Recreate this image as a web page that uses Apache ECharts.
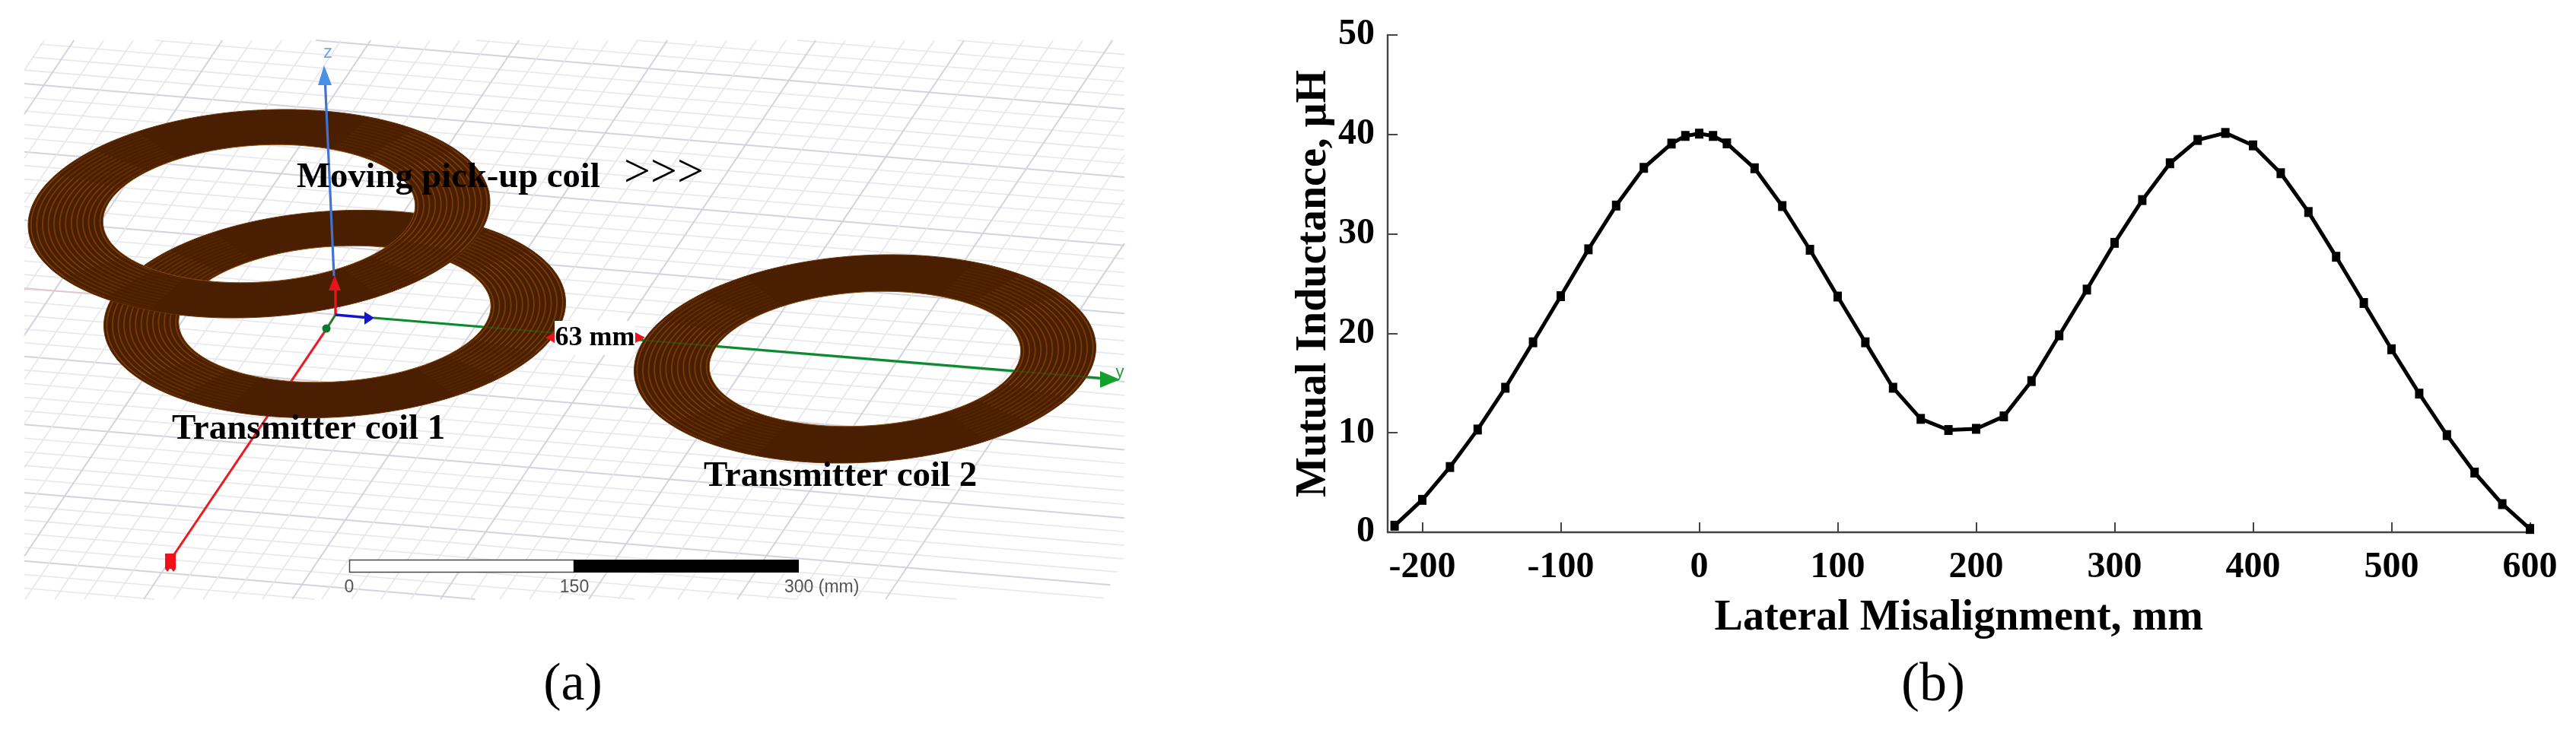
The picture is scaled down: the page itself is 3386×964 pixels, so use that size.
<!DOCTYPE html>
<html>
<head>
<meta charset="utf-8">
<title>Mutual inductance vs lateral misalignment</title>
<style>html,body{margin:0;padding:0;background:#fff}#chart{width:3386px;height:964px}</style>
<script src="https://cdn.jsdelivr.net/npm/echarts@6/dist/echarts.min.js"></script>
</head>
<body>
<div id="chart"></div>
<script>
// ---- Chart data (panel b) ----
const misalignmentMm = [-220,-200,-180,-160,-140,-120,-100,-80,-60,-40,-20,-10,0,10,20,40,60,80,100,120,140,160,180,200,220,240,260,280,300,320,340,360,380,400,420,440,460,480,500,520,540,560,580,600];
const mutualInductanceUH = [0.66,3.26,6.56,10.33,14.53,19.1,23.74,28.45,32.85,36.64,39.08,39.85,40.08,39.85,39.1,36.6,32.8,28.4,23.7,19.1,14.53,11.4,10.28,10.4,11.65,15.2,19.8,24.4,29.1,33.4,37.1,39.44,40.15,38.9,36.1,32.2,27.7,23.05,18.4,13.94,9.77,6.0,2.83,0.33];
const xTickValues = [-200,-100,0,100,200,300,400,500,600];
const yTickMax = 50;
const yTickStep = 10;
const xAxisTitle = 'Lateral Misalignment, mm';
const yAxisTitle = 'Mutual Inductance, \u03BCH';

// ---- Illustration text (panel a) ----
const labelPickup = 'Moving pick-up coil';
const labelArrows = '>>>';
const labelCoil1 = 'Transmitter coil 1';
const labelCoil2 = 'Transmitter coil 2';
const labelGap = '63 mm';
const scaleLabels = ['0', '150', '300 (mm)'];

const SERIF = '"Liberation Serif","Times New Roman",serif';
const SANS = '"Liberation Sans",Arial,sans-serif';
const els = [];

// Floor grid of the 3D view, clipped to its convex outline
const clipPoly = [[66,37],[1270,37],[1465,53],[1478,53],[1478,733],[1450,788],[32,788],[32,92]];
function clipLine(p, q) {
  let t0 = 0, t1 = 1;
  const d = [q[0]-p[0], q[1]-p[1]];
  for (let i = 0; i < clipPoly.length; i++) {
    const a = clipPoly[i], b = clipPoly[(i+1) % clipPoly.length];
    const n = [b[1]-a[1], a[0]-b[0]]; // points outward for a clockwise polygon on screen
    const num = n[0]*(a[0]-p[0]) + n[1]*(a[1]-p[1]);
    const den = n[0]*d[0] + n[1]*d[1];
    if (den === 0) { if (num < 0) return null; continue; }
    const t = num/den;
    if (den > 0) t1 = Math.min(t1, t); else t0 = Math.max(t0, t);
    if (t0 > t1) return null;
  }
  return [[p[0]+d[0]*t0, p[1]+d[1]*t0], [p[0]+d[0]*t1, p[1]+d[1]*t1]];
}
function seg(a, b, color, w, opacity) {
  els.push({type:'line', silent:true, shape:{x1:a[0],y1:a[1],x2:b[0],y2:b[1]},
    style:{stroke:color, lineWidth:w, opacity:opacity==null?1:opacity}});
}
function gridLine(p, q, major) {
  const c = clipLine(p, q);
  if (c) seg(c[0], c[1], major ? '#d2d3e0' : '#e6e7ef', major ? 2 : 1.6);
}
const slopeRow = 0.085, rowStep = 17.93, rowBaseY = 110;
for (let k = -25; k <= 45; k++) {
  const y0 = rowBaseY + k*rowStep;
  gridLine([0, y0 - slopeRow*31], [1500, y0 + slopeRow*(1500-31)], ((k%5)+5)%5 === 0);
}
const colRatio = 0.671, colStep = 39, colBaseX = 108;
for (let k = -20; k <= 40; k++) {
  const x0 = colBaseX + k*colStep;
  gridLine([x0, 37], [x0 - colRatio*760, 797], ((k%5)+5)%5 === 0);
}

// Coil helpers
const TILT = 3.6*Math.PI/180;
function ePt(c, a, b, t) {
  const ca = a*Math.cos(t), sb = b*Math.sin(t);
  return [c[0] + ca*Math.cos(TILT) + sb*Math.sin(TILT), c[1] - ca*Math.sin(TILT) + sb*Math.cos(TILT)];
}
function ePts(c, a, b, t0, t1, n) {
  const out = [];
  for (let i = 0; i <= n; i++) out.push(ePt(c, a, b, t0 + (t1-t0)*i/n));
  return out;
}
function coil(c, A, B, a0, b0) {
  const full = Math.PI*2;
  const outer = ePts(c, A, B, 0, full, 180);
  const inner = ePts(c, a0, b0, full, 0, 180);
  els.push({type:'polygon', silent:true, shape:{points:outer.concat(inner)}, style:{fill:'#4a1e00'}});
  const turns = 12;
  const bands = [[0,30,0.62],[30,46,0.36],[46,60,0.14]];
  for (let i = 0; i <= turns; i++) {
    const f = (i+0.5)/(turns+1);
    const a = a0 + (A-a0)*f, b = b0 + (B-b0)*f;
    [0, 180].forEach(function (mid) {
      bands.forEach(function (bd) {
        [1,-1].forEach(function (sg) {
          const t0 = (mid + sg*bd[0])*Math.PI/180, t1 = (mid + sg*bd[1])*Math.PI/180;
          els.push({type:'polyline', silent:true, shape:{points:ePts(c, a, b, t0, t1, 14)},
            style:{stroke:'#944e06', lineWidth:1.8, opacity:bd[2], fill:null}});
        });
      });
    });
  }
  els.push({type:'polyline', silent:true, shape:{points:outer}, style:{stroke:'#6a3204', lineWidth:1, fill:null}});
  els.push({type:'polyline', silent:true, shape:{points:inner}, style:{stroke:'#8a4e0c', lineWidth:1, fill:null}});
}
function tri(points, color) {
  els.push({type:'polygon', silent:true, shape:{points:points}, style:{fill:color}});
}
function txt(x, y, s, size, opt) {
  opt = opt || {};
  els.push({type:'text', silent:true, x:x, y:y, style:{text:s, fontSize:size,
    fontFamily:opt.family||SERIF, fontWeight:opt.weight||'normal', fill:opt.color||'#000',
    textAlign:opt.align||'left', textVerticalAlign:'middle'}});
}

const ORIGIN = [441, 414];
const greenY = function (x) { return 418 + 0.083*(x-491); };

// Axes behind the coils
seg([32,380], [137,387], '#ecc4cc', 1.6);
seg([429,433], [225,735], '#f0181c', 3);
seg([491,418], [1462,greenY(1462)], '#0b8a2e', 3.2);

// Transmitter coils
coil([440,413], 304, 135.5, 205.5, 89);
coil([1137,472], 304, 136, 205, 88);
[[638,744],[833,939],[1333,1441]].forEach(function (r) {
  seg([r[0],greenY(r[0])], [r[1],greenY(r[1])], '#1f7a1f', 2.4, 0.35);
});

// Moving coil
coil([340.5,281], 304, 136, 205.5, 90);

// Foreground axes and arrows
seg([439,363], [427,100], '#3f74d2', 3.2);
tri([[426,86],[418,112],[436,112]], '#4a90e4');
txt(431, 69, 'z', 24, {family:SANS, color:'#7ba3dc', align:'center'});
seg(ORIGIN, [441,375], '#e8141c', 3.4);
tri([[440,362],[432,382],[448,382]], '#e8141c');
seg(ORIGIN, [429,433], '#2a7a2a', 3);
els.push({type:'circle', silent:true, shape:{cx:429,cy:432,r:5.5}, style:{fill:'#0b7a2e'}});
seg(ORIGIN, [486,418], '#1414cc', 3.6);
tri([[492,418],[479,410],[479,427]], '#1414cc');
tri([[1472,499],[1446,488],[1446,510]], '#12a02c');
txt(1472, 490, 'y', 22, {family:SANS, color:'#2a9a3a', align:'center'});
els.push({type:'rect', silent:true, shape:{x:217,y:728,width:14,height:20}, style:{fill:'#f0101a'}});
tri([[217,748],[223,748],[220,752]], '#f0101a');
tri([[225,748],[231,748],[228,752]], '#f0101a');

// 63 mm gap
els.push({type:'rect', silent:true, shape:{x:729,y:422,width:106,height:45}, style:{fill:'#fff'}});
tri([[717,444],[729,437],[729,451]], '#e8141c');
tri([[848,444],[835,437],[835,451]], '#e8141c');
txt(782, 445, labelGap, 36, {weight:'bold', align:'center'});

// Coil labels
txt(390, 234, labelPickup, 46.6, {weight:'bold'});
txt(820, 229, labelArrows, 62, {});
txt(226, 565, labelCoil1, 47, {weight:'bold'});
txt(925, 627, labelCoil2, 47, {weight:'bold'});

// Scale bar
els.push({type:'rect', silent:true, shape:{x:459.5,y:736.5,width:295,height:16}, style:{fill:'#fff', stroke:'#444', lineWidth:1.5}});
els.push({type:'rect', silent:true, shape:{x:754,y:736,width:296,height:17}, style:{fill:'#000'}});
txt(459, 773, scaleLabels[0], 23, {family:SANS, color:'#555', align:'center'});
txt(755, 773, scaleLabels[1], 23, {family:SANS, color:'#555', align:'center'});
txt(1031, 773, scaleLabels[2], 23, {family:SANS, color:'#555'});

// Panel captions
txt(753, 902, '(a)', 70, {align:'center'});
txt(2541, 902, '(b)', 72, {align:'center'});

const axisStyle = {show:true, onZero:false, lineStyle:{color:'#444', width:2.4}};
const tickStyle = {show:true, inside:true, length:13, lineStyle:{color:'#444', width:2}};
const labelStyle = {color:'#000', fontFamily:SERIF, fontWeight:'bold', fontSize:48};
const nameStyle = {color:'#000', fontFamily:SERIF, fontWeight:'bold', fontSize:56};

const chart = echarts.init(document.getElementById('chart'), null, {renderer:'canvas'});
chart.setOption({
  animation:false,
  backgroundColor:'#fff',
  graphic:{elements:els},
  grid:{left:1824, top:46, width:1501.5, height:654, containLabel:false},
  xAxis:{type:'value', min:-225, max:600,
    name:xAxisTitle, nameLocation:'middle', nameGap:86, nameTextStyle:nameStyle,
    axisLine:axisStyle,
    axisTick:Object.assign({customValues:xTickValues}, tickStyle),
    axisLabel:Object.assign({customValues:xTickValues, margin:23, showMinLabel:true, showMaxLabel:true}, labelStyle),
    splitLine:{show:false}},
  yAxis:{type:'value', min:0, max:yTickMax, interval:yTickStep,
    name:yAxisTitle, nameLocation:'middle', nameGap:68, nameTextStyle:nameStyle,
    axisLine:axisStyle, axisTick:tickStyle,
    axisLabel:Object.assign({margin:17}, labelStyle),
    splitLine:{show:false}},
  series:[{type:'line', clip:false, showAllSymbol:true, symbol:'rect', symbolSize:[11,13],
    lineStyle:{color:'#000', width:5}, itemStyle:{color:'#000'},
    data:misalignmentMm.map(function (x, i) { return [x, mutualInductanceUH[i]]; })}]
});
</script>
</body>
</html>
